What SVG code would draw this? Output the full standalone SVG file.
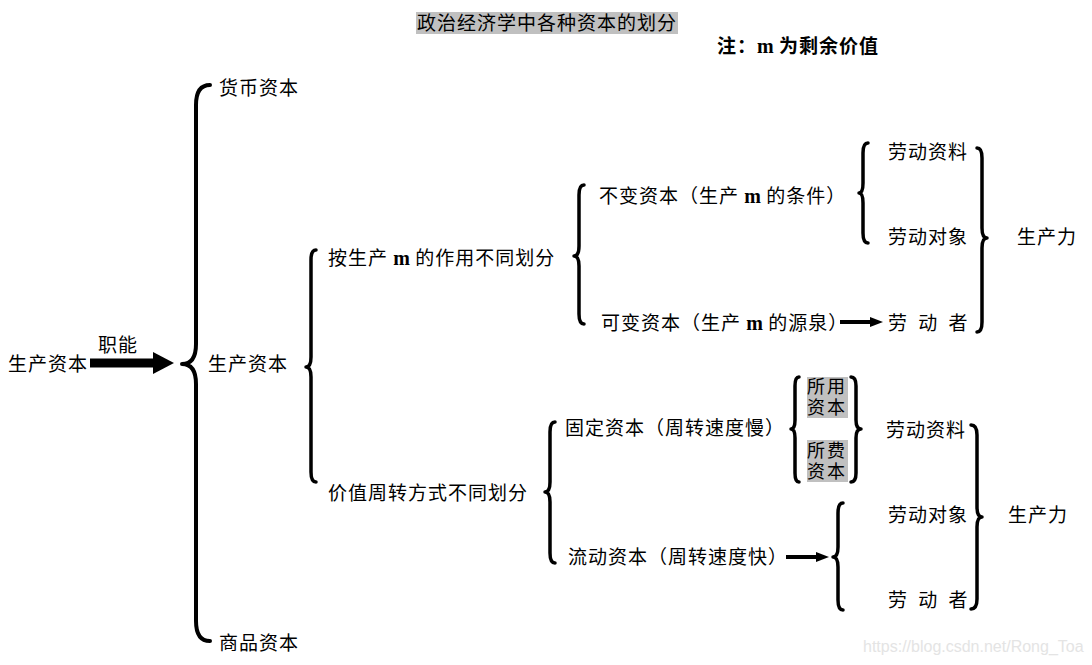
<svg xmlns="http://www.w3.org/2000/svg" width="1092" height="665" viewBox="0 0 1092 665">
<style>
.t { font-family: "Noto Sans CJK SC", "Noto Sans", sans-serif; font-size: 19px; letter-spacing: 1px; fill: #000; }
.s { font-size: 18px; letter-spacing: 2px; }
.m { font-family: "Liberation Serif", serif; font-weight: bold; font-size: 20px; letter-spacing: 0; }
.b { font-weight: bold; }
.brace { fill: none; stroke: #000; stroke-width: 3.5; stroke-linecap: round; stroke-linejoin: round; }
.shaft { stroke: #000; stroke-width: 4; }
.hl { fill: #c0c0c0; }
.wm { font-family: "Liberation Sans", Arial, sans-serif; font-size: 16px; fill: #e4e4e4; }
</style>
<defs>
<marker id="ah" markerUnits="userSpaceOnUse" markerWidth="13" markerHeight="10" refX="0" refY="5" orient="auto">
<path d="M0,0 L13,5 L0,10 z" fill="#000"/>
</marker>
<marker id="ahBig" markerUnits="userSpaceOnUse" markerWidth="21" markerHeight="22" refX="0" refY="11" orient="auto">
<path d="M0,0 L21,11 L0,22 z" fill="#000"/>
</marker>
</defs>
<rect width="1092" height="665" fill="#fff"/>

<g id="title">
<rect class="hl" x="416" y="12" width="262" height="22"/>
<text class="t" x="417" y="30">政治经济学中各种资本的划分</text>
</g>
<g id="note">
<text class="t b" x="717" y="53">注：<tspan class="m">m</tspan> 为剩余价值</text>
</g>

<g id="connectors">
<line class="shaft" x1="90" y1="363" x2="153" y2="363" style="stroke-width:9" marker-end="url(#ahBig)"/>
<line class="shaft" x1="840" y1="322" x2="870" y2="322" marker-end="url(#ah)"/>
<line class="shaft" x1="786" y1="557" x2="816" y2="557" marker-end="url(#ah)"/>
<path class="brace" style="stroke-width:4" d="M210,85 Q196,85 196,105 L196,344 Q196,364 182,364 Q196,364 196,384 L196,621 Q196,641 210,641"/>
<path class="brace" d="M316,250 Q311,250 311,260 L311,357 Q311,367 306,367 Q311,367 311,377 L311,472 Q311,482 316,482"/>
<path class="brace" d="M584,185 Q579,185 579,195 L579,246 Q579,256 574,256 Q579,256 579,266 L579,314 Q579,324 584,324"/>
<path class="brace" d="M868,143 Q863,143 863,153 L863,183 Q863,193 859,193 Q863,193 863,203 L863,233 Q863,243 868,243"/>
<path class="brace" d="M977,148 Q982,148 982,158 L982,228 Q982,238 987,238 Q982,238 982,248 L982,322 Q982,332 977,332"/>
<path class="brace" d="M555,422 Q550,422 550,432 L550,482 Q550,492 545,492 Q550,492 550,502 L550,553 Q550,563 555,563"/>
<path class="brace" d="M799,377 Q795,377 795,386 L795,420 Q795,429 791,429 Q795,429 795,438 L795,473 Q795,482 799,482"/>
<path class="brace" d="M851,377 Q856,377 856,386 L856,420 Q856,429 861,429 Q856,429 856,438 L856,473 Q856,482 851,482"/>
<path class="brace" d="M843,503 Q838,503 838,513 L838,547 Q838,557 833,557 Q838,557 838,567 L838,600 Q838,610 843,610"/>
<path class="brace" d="M971,425 Q977,425 977,435 L977,507 Q977,517 982,517 Q977,517 977,527 L977,599 Q977,609 971,609"/>
</g>

<g id="n-production-left"><text class="t" x="8" y="371">生产资本</text></g>
<g id="lbl-function"><text class="t" x="98" y="352">职能</text></g>
<g id="n-money"><text class="t" x="219" y="95">货币资本</text></g>
<g id="n-production"><text class="t" x="208" y="371">生产资本</text></g>
<g id="n-commodity"><text class="t" x="219" y="650">商品资本</text></g>

<g id="n-by-m"><text class="t" x="328" y="265">按生产 <tspan class="m">m</tspan> 的作用不同划分</text></g>
<g id="n-by-turnover"><text class="t" x="328" y="500">价值周转方式不同划分</text></g>

<g id="n-constant"><text class="t" x="599" y="203">不变资本（生产 <tspan class="m">m</tspan> 的条件）</text></g>
<g id="n-variable"><text class="t" x="601" y="330">可变资本（生产 <tspan class="m">m</tspan> 的源泉）</text></g>
<g id="n-means-top"><text class="t" x="888" y="159">劳动资料</text></g>
<g id="n-object-top"><text class="t" x="888" y="244">劳动对象</text></g>
<g id="n-worker-top"><text class="t" x="888" y="330" xml:space="preserve" style="word-spacing:5px">劳 动 者</text></g>
<g id="n-force-top"><text class="t" x="1017" y="244">生产力</text></g>

<g id="n-fixed"><text class="t" x="565" y="435">固定资本（周转速度慢）</text></g>
<g id="n-circulating"><text class="t" x="568" y="564">流动资本（周转速度快）</text></g>
<g id="n-used">
<rect class="hl" x="807" y="377" width="41" height="41"/>
<text class="t s" x="807" y="393">所用<tspan x="807" dy="21">资本</tspan></text>
</g>
<g id="n-consumed">
<rect class="hl" x="807" y="440" width="41" height="42"/>
<text class="t s" x="807" y="457">所费<tspan x="807" dy="21">资本</tspan></text>
</g>
<g id="n-means-bottom"><text class="t" x="886" y="437">劳动资料</text></g>
<g id="n-object-bottom"><text class="t" x="888" y="522">劳动对象</text></g>
<g id="n-worker-bottom"><text class="t" x="888" y="607" xml:space="preserve" style="word-spacing:5px">劳 动 者</text></g>
<g id="n-force-bottom"><text class="t" x="1008" y="522">生产力</text></g>

<g id="watermark"><text class="wm" x="863" y="652">https://blog.csdn.net/Rong_Toa</text></g>
</svg>
